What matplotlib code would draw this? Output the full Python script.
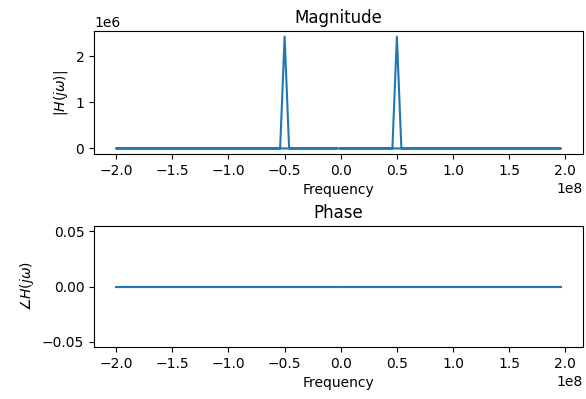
import matplotlib
matplotlib.use('Agg')
import matplotlib.pyplot as plt

# FFT bins in unshifted order: 0 .. +fmax, then -fs/2 .. just below 0
freq = [0.0, 0.46e8, 0.50e8, 0.54e8, 1.96e8,
        -2.00e8, -0.54e8, -0.50e8, -0.46e8, -0.04e8]
magnitude = [0.0, 0.0, 2.42e6, 0.0, 0.0,
             0.0, 0.0, 2.42e6, 0.0, 0.0]
phase = [0.0, 0.0, 0.0, 0.0, 0.0,
         0.0, 0.0, 0.0, 0.0, 0.0]

fig = plt.figure(figsize=(5.86, 3.99), dpi=100)
ax1 = fig.add_axes([0.1604, 0.614, 0.8345, 0.3083])
ax2 = fig.add_axes([0.1604, 0.1303, 0.8345, 0.3033])

ax1.plot(freq, magnitude)
ax1.set_title('Magnitude')
ax1.set_xlabel('Frequency')
ax1.set_ylabel(r'$|H(j\omega)|$')

ax2.plot(freq, phase)
ax2.set_title('Phase')
ax2.set_xlabel('Frequency')
ax2.set_ylabel(r'$\angle H(j\omega)$')

fig.savefig('out.png', dpi=100)
